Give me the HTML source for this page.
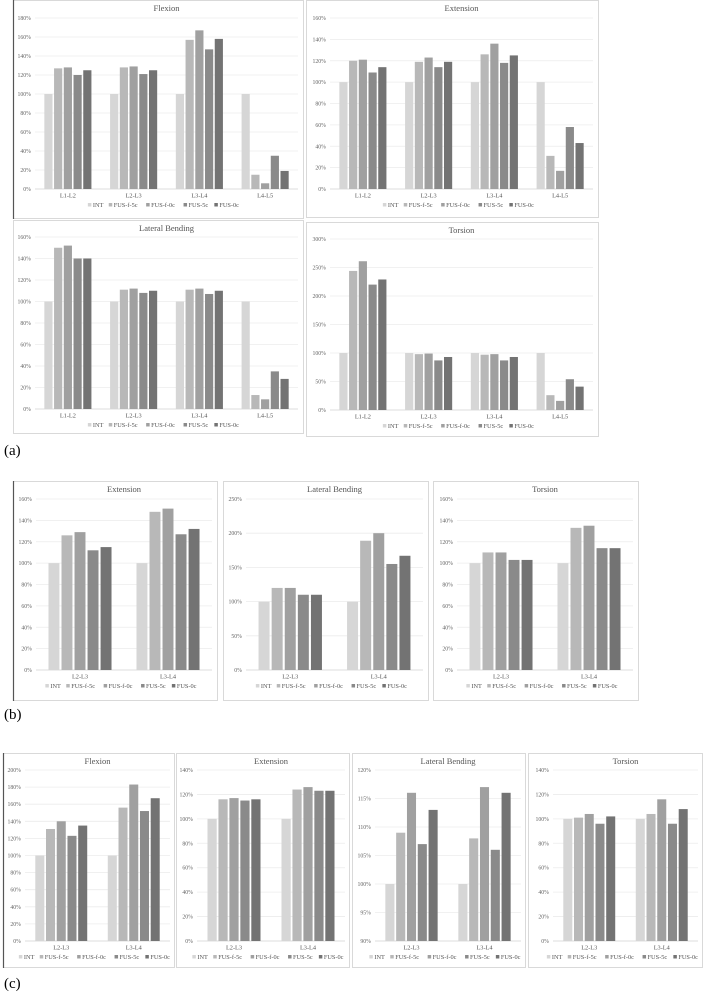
<!DOCTYPE html>
<html><head><meta charset="utf-8"><style>
html,body{margin:0;padding:0;background:#fff;}
svg{display:block;font-family:"Liberation Serif",serif;}
</style></head><body>
<svg id="fig" width="703" height="992" viewBox="0 0 703 992" xmlns="http://www.w3.org/2000/svg">
<text x="4" y="455" font-size="15">(a)</text>
<text x="4" y="719" font-size="15">(b)</text>
<text x="4" y="988" font-size="15">(c)</text>
</svg>
<script>
const seriesNames = ['INT','FUS-f-5c','FUS-f-0c','FUS-5c','FUS-0c'];
const seriesColors = ['#d6d6d6','#b8b8b8','#a0a0a0','#8a8a8a','#737373'];

const catsA = ['L1-L2','L2-L3','L3-L4','L4-L5'];
const catsB = ['L2-L3','L3-L4'];

// series-major: each inner array = one series across categories
const aFlexSeries = [[100,100,100,100],[127,128,157,15],[128,129,167,6],[120,121,147,35],[125,125,158,19]];
const aExtSeries  = [[100,100,100,100],[120,119,126,31],[121,123,136,17],[109,114,118,58],[114,119,125,43]];
const aLatSeries  = [[100,100,100,100],[150,111,111,13],[152,112,112,9],[140,108,107,35],[140,110,110,28]];
const aTorSeries  = [[100,100,100,100],[244,98,97,26],[261,99,98,16],[220,87,87,54],[229,93,93,41]];
const bExtSeries  = [[100,100],[126,148],[129,151],[112,127],[115,132]];
const bLatSeries  = [[100,100],[120,189],[120,200],[110,155],[110,167]];
const bTorSeries  = [[100,100],[110,133],[110,135],[103,114],[103,114]];
const cFlexSeries = [[100,100],[131,156],[140,183],[123,152],[135,167]];
const cExtSeries  = [[100,100],[116,124],[117,126],[115,123],[116,123]];
const cLatSeries  = [[100,100],[109,108],[116,117],[107,106],[113,116]];
const cTorSeries  = [[100,100],[101,104],[104,116],[96,96],[102,108]];

const svg = document.getElementById('fig');
const NS = 'http://www.w3.org/2000/svg';
function mk(tag, attrs, parent){
  const e = document.createElementNS(NS, tag);
  for (const k in attrs) e.setAttribute(k, attrs[k]);
  (parent||svg).appendChild(e);
  return e;
}

function chart(id, title, box, plot, yMin, yMax, step, cats, series, darkLeft){
  const g = mk('g', {});
  
  
  const fr = mk('rect', {x:box.x+0.5, y:box.y+0.5, width:box.w, height:box.h, fill:'#fff', stroke:'#d9d9d9', 'stroke-width':1}, g);
  
  
  if (darkLeft){
    const dl = mk('line', {x1:box.x+0.5, x2:box.x+0.5, y1:box.y, y2:box.y+box.h+1, stroke:'#555', 'stroke-width':1.2}, g);
    
    
  }
  const yS = v => plot.b - (v - yMin) / (yMax - yMin) * (plot.b - plot.t);
  const t = mk('text', {x:(plot.l+plot.r)/2, y:box.y+11, 'font-size':8.5, 'text-anchor':'middle', fill:'#555'}, g);
  t.textContent = title;
  
  
  for (let v = yMin; v <= yMax + 1e-9; v += step){
    const y = yS(v);
    const gl = mk('line', {x1:plot.l, x2:plot.r, y1:y, y2:y, stroke: v===yMin ? '#d0d0d0' : '#ececec', 'stroke-width':0.8}, g);
    
    
    const tl = mk('text', {x:plot.l-4, y:y+2, 'font-size':5.8, 'text-anchor':'end', fill:'#666'}, g);
    tl.textContent = Math.round(v) + '%';
    
    
  }
  const n = cats.length;
  const cw = (plot.r - plot.l) / n;
  const pitch = cw * 0.148;
  const bw = pitch * 0.84;
  cats.forEach((c, i) => {
    const cx = plot.l + cw * (i + 0.5);
    series.forEach((s, j) => {
      const x = cx + (j - 2) * pitch - bw / 2;
      const y = yS(s[i]);
      const r = mk('rect', {x:x, y:y, width:bw, height:plot.b - y, fill:seriesColors[j]}, g);
      
      
    });
    const cl = mk('text', {x:cx, y:plot.b+8.5, 'font-size':6.3, 'text-anchor':'middle', fill:'#555'}, g);
    cl.textContent = c;
    
    
  });
  // legend
  const lens = seriesNames.map(s => 5 + s.length * 3.3 + 6);
  const tot = lens.reduce((a,b)=>a+b,0);
  let lx = (plot.l + plot.r) / 2 - tot / 2;
  const ly = plot.b + 18;
  seriesNames.forEach((s, j) => {
    const sq = mk('rect', {x:lx, y:ly-4, width:3.5, height:3.5, fill:seriesColors[j]}, g);
    
    
    const lt = mk('text', {x:lx+5, y:ly, 'font-size':6.3, fill:'#555'}, g);
    lt.textContent = s;
    
    
    lx += lens[j];
  });
}

chart('a-flexion','Flexion',{x:13,y:0,w:290,h:218},{l:35,r:298,t:18,b:189},0,180,20,catsA,aFlexSeries,true);
chart('a-extension','Extension',{x:306,y:0,w:292,h:217},{l:330,r:593,t:18,b:189},0,160,20,catsA,aExtSeries,false);
chart('a-lateral','Lateral Bending',{x:13,y:220,w:290,h:213},{l:35,r:298,t:237,b:409},0,160,20,catsA,aLatSeries,false);
chart('a-torsion','Torsion',{x:306,y:222,w:292,h:214},{l:330,r:593,t:239,b:410},0,300,50,catsA,aTorSeries,false);

chart('b-extension','Extension',{x:13,y:481,w:204,h:219},{l:36,r:212,t:499,b:670},0,160,20,catsB,bExtSeries,true);
chart('b-lateral','Lateral Bending',{x:223,y:481,w:205,h:219},{l:246,r:423,t:499,b:670},0,250,50,catsB,bLatSeries,false);
chart('b-torsion','Torsion',{x:433,y:481,w:205,h:219},{l:457,r:633,t:499,b:670},0,160,20,catsB,bTorSeries,false);

chart('c-flexion','Flexion',{x:3,y:753,w:171,h:214},{l:25,r:170,t:770,b:941},0,200,20,catsB,cFlexSeries,true);
chart('c-extension','Extension',{x:176,y:753,w:173,h:214},{l:197,r:345,t:770,b:941},0,140,20,catsB,cExtSeries,false);
chart('c-lateral','Lateral Bending',{x:352,y:753,w:173,h:214},{l:375,r:521,t:770,b:941},90,120,5,catsB,cLatSeries,false);
chart('c-torsion','Torsion',{x:528,y:753,w:174,h:214},{l:553,r:698,t:770,b:941},0,140,20,catsB,cTorSeries,false);
</script>
</body></html>
